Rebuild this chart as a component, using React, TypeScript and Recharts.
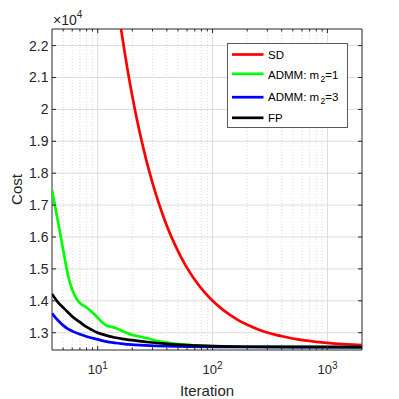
import React from 'react';
import {
  LineChart,
  Line,
  XAxis,
  YAxis,
  CartesianGrid,
  ReferenceArea,
} from 'recharts';

// iterations and cost values
const sdIter = [14, 15, 16, 17, 18, 20, 22, 25, 28, 32, 36, 41, 48, 58, 70, 85, 100, 125, 163, 210, 260, 330, 414, 550, 800, 1100, 1500, 2000];
const sdCost = [24000, 23200, 22500, 21890, 21340, 20420, 19670, 18780, 18080, 17360, 16800, 16250, 15690, 15120, 14660, 14270, 14000, 13700, 13420, 13220, 13080, 12965, 12880, 12790, 12715, 12667, 12635, 12612];

const admm1Iter = [4, 4.5, 5, 5.6, 6, 6.5, 7, 8, 9, 10, 11, 12, 13, 14, 15, 16, 18, 20, 23, 28, 33, 40, 50, 64, 100, 200, 500, 2000];
const admm1Cost = [17470, 16500, 15600, 14700, 14350, 14080, 13930, 13790, 13630, 13470, 13320, 13220, 13190, 13160, 13120, 13070, 12990, 12930, 12880, 12810, 12740, 12690, 12645, 12612, 12580, 12560, 12555, 12550];

const admm3Iter = [4, 4.5, 5, 5.5, 6, 7, 8, 10, 12, 16, 20, 26, 40, 100, 2000];
const admm3Cost = [13610, 13390, 13230, 13120, 13050, 12950, 12880, 12790, 12720, 12660, 12625, 12600, 12575, 12555, 12548];

const fpIter = [4, 4.5, 5, 5.5, 6, 7, 8, 9, 10, 12, 14, 17, 20, 28, 40, 60, 100, 200, 2000];
const fpCost = [14216, 13960, 13790, 13640, 13510, 13330, 13180, 13080, 13000, 12910, 12850, 12800, 12765, 12700, 12650, 12610, 12580, 12560, 12550];

const xMajor = [10, 100, 1000];
const xMinor = [5, 6, 7, 8, 9, 20, 30, 40, 50, 60, 70, 80, 90, 200, 300, 400, 500, 600, 700, 800, 900];
const yTicks = [13000, 14000, 15000, 16000, 17000, 18000, 19000, 20000, 21000, 22000];

const X_DOMAIN = [4, 2000];
const Y_DOMAIN = [12458, 22520];

const PLOT_LEFT = 52;
const PLOT_RIGHT = 362;
const PLOT_TOP = 29;
const PLOT_BOTTOM = 350;

const FONT = '"Liberation Sans", Arial, Helvetica, sans-serif';
const AXIS_COLOR = '#262626';
const GRID_COLOR = '#dcdcdc';

const toRows = (xs: number[], ys: number[]) => xs.map((n, i) => ({ n, cost: ys[i] }));

const series = [
  { name: 'SD', color: '#ff0000', data: toRows(sdIter, sdCost) },
  { name: 'ADMM1', color: '#00ff00', data: toRows(admm1Iter, admm1Cost) },
  { name: 'ADMM3', color: '#0000ff', data: toRows(admm3Iter, admm3Cost) },
  { name: 'FP', color: '#000000', data: toRows(fpIter, fpCost) },
];

const XTick = (props: any) => {
  const { x, payload } = props;
  const v = payload.value;
  const major = xMajor.includes(v);
  const len = major ? 4 : 2.5;
  return (
    <g>
      <line x1={x} x2={x} y1={PLOT_BOTTOM} y2={PLOT_BOTTOM - len} stroke={AXIS_COLOR} />
      <line x1={x} x2={x} y1={PLOT_TOP} y2={PLOT_TOP + len} stroke={AXIS_COLOR} />
      {major && (
        <text x={x} y={374} textAnchor="middle" fontFamily={FONT} fontSize={13} fill={AXIS_COLOR}>
          10
          <tspan dy={-5} fontSize={10}>{Math.round(Math.log10(v))}</tspan>
        </text>
      )}
    </g>
  );
};

const YTick = (props: any) => {
  const { y, payload } = props;
  const label = String(Math.round(payload.value / 1000) / 10);
  return (
    <g>
      <line x1={PLOT_LEFT} x2={PLOT_LEFT + 4} y1={y} y2={y} stroke={AXIS_COLOR} />
      <line x1={PLOT_RIGHT} x2={PLOT_RIGHT - 4} y1={y} y2={y} stroke={AXIS_COLOR} />
      <text x={48.5} y={y} dy={5} textAnchor="end" fontFamily={FONT} fontSize={14} fill={AXIS_COLOR}>
        {label}
      </text>
    </g>
  );
};

const LegendBox = () => {
  const rows = [
    { color: '#ff0000', lineY: 11.5, baseY: 16, label: <>SD</> },
    { color: '#00ff00', lineY: 30.8, baseY: 35.5, label: <>ADMM: m<tspan dx={1.5} dy={3} fontSize={8.5}>2</tspan><tspan dy={-3}>=1</tspan></> },
    { color: '#0000ff', lineY: 54.2, baseY: 57.5, label: <>ADMM: m<tspan dx={1.5} dy={3} fontSize={8.5}>2</tspan><tspan dy={-3}>=3</tspan></> },
    { color: '#000000', lineY: 74.8, baseY: 78.5, label: <>FP</> },
  ];
  return (
    <svg
      width={122}
      height={86}
      style={{ position: 'absolute', left: 226.5, top: 42.5 }}
    >
      <rect x={0.5} y={0.5} width={120} height={84} fill="#fff" stroke="#5a5a5a" />
      {rows.map((r, i) => (
        <g key={i}>
          <line x1={5} x2={36.5} y1={r.lineY} y2={r.lineY} stroke={r.color} strokeWidth={2.7} />
          <text x={41} y={r.baseY} fontFamily={FONT} fontSize={11.5} fill="#000">
            {r.label}
          </text>
        </g>
      ))}
    </svg>
  );
};

const App: React.FC = () => {
  return (
    <div style={{ position: 'absolute', left: 0, top: 0, width: 399, height: 399, background: '#fff' }}>
      <LineChart width={399} height={399} margin={{ top: PLOT_TOP, right: 399 - PLOT_RIGHT, left: 0, bottom: 0 }}>
        <CartesianGrid
          horizontal={false}
          verticalValues={xMinor}
          stroke={GRID_COLOR}
          strokeDasharray="1 2"
        />
        <CartesianGrid
          horizontalValues={yTicks}
          verticalValues={xMajor}
          stroke={GRID_COLOR}
        />
        <XAxis
          dataKey="n"
          type="number"
          scale="log"
          domain={X_DOMAIN}
          allowDataOverflow
          ticks={[...xMinor, ...xMajor].sort((a, b) => a - b)}
          interval={0}
          height={399 - PLOT_BOTTOM}
          axisLine={false}
          tickLine={false}
          tick={<XTick />}
        />
        <YAxis
          type="number"
          domain={Y_DOMAIN}
          allowDataOverflow
          ticks={yTicks}
          interval={0}
          width={PLOT_LEFT}
          axisLine={false}
          tickLine={false}
          tick={<YTick />}
        />
        <ReferenceArea
          x1={X_DOMAIN[0]}
          x2={X_DOMAIN[1]}
          y1={Y_DOMAIN[0]}
          y2={Y_DOMAIN[1]}
          fill="none"
          stroke={AXIS_COLOR}
          strokeWidth={1}
          ifOverflow="visible"
        />
        {series.map((s) => (
          <Line
            key={s.name}
            data={s.data}
            dataKey="cost"
            name={s.name}
            type="monotone"
            stroke={s.color}
            strokeWidth={2.7}
            dot={false}
            activeDot={false}
            isAnimationActive={false}
          />
        ))}
        <text x={53} y={25} fontFamily={FONT} fontSize={14} fill={AXIS_COLOR}>
          ×10
          <tspan dy={-7} fontSize={10}>4</tspan>
        </text>
        <text
          x={21.5}
          y={189.5}
          textAnchor="middle"
          fontFamily={FONT}
          fontSize={15}
          fill={AXIS_COLOR}
          transform="rotate(-90, 21.5, 189.5)"
        >
          Cost
        </text>
        <text x={207} y={395.5} textAnchor="middle" fontFamily={FONT} fontSize={15} fill={AXIS_COLOR}>
          Iteration
        </text>
      </LineChart>
      <LegendBox />
    </div>
  );
};

export default App;
